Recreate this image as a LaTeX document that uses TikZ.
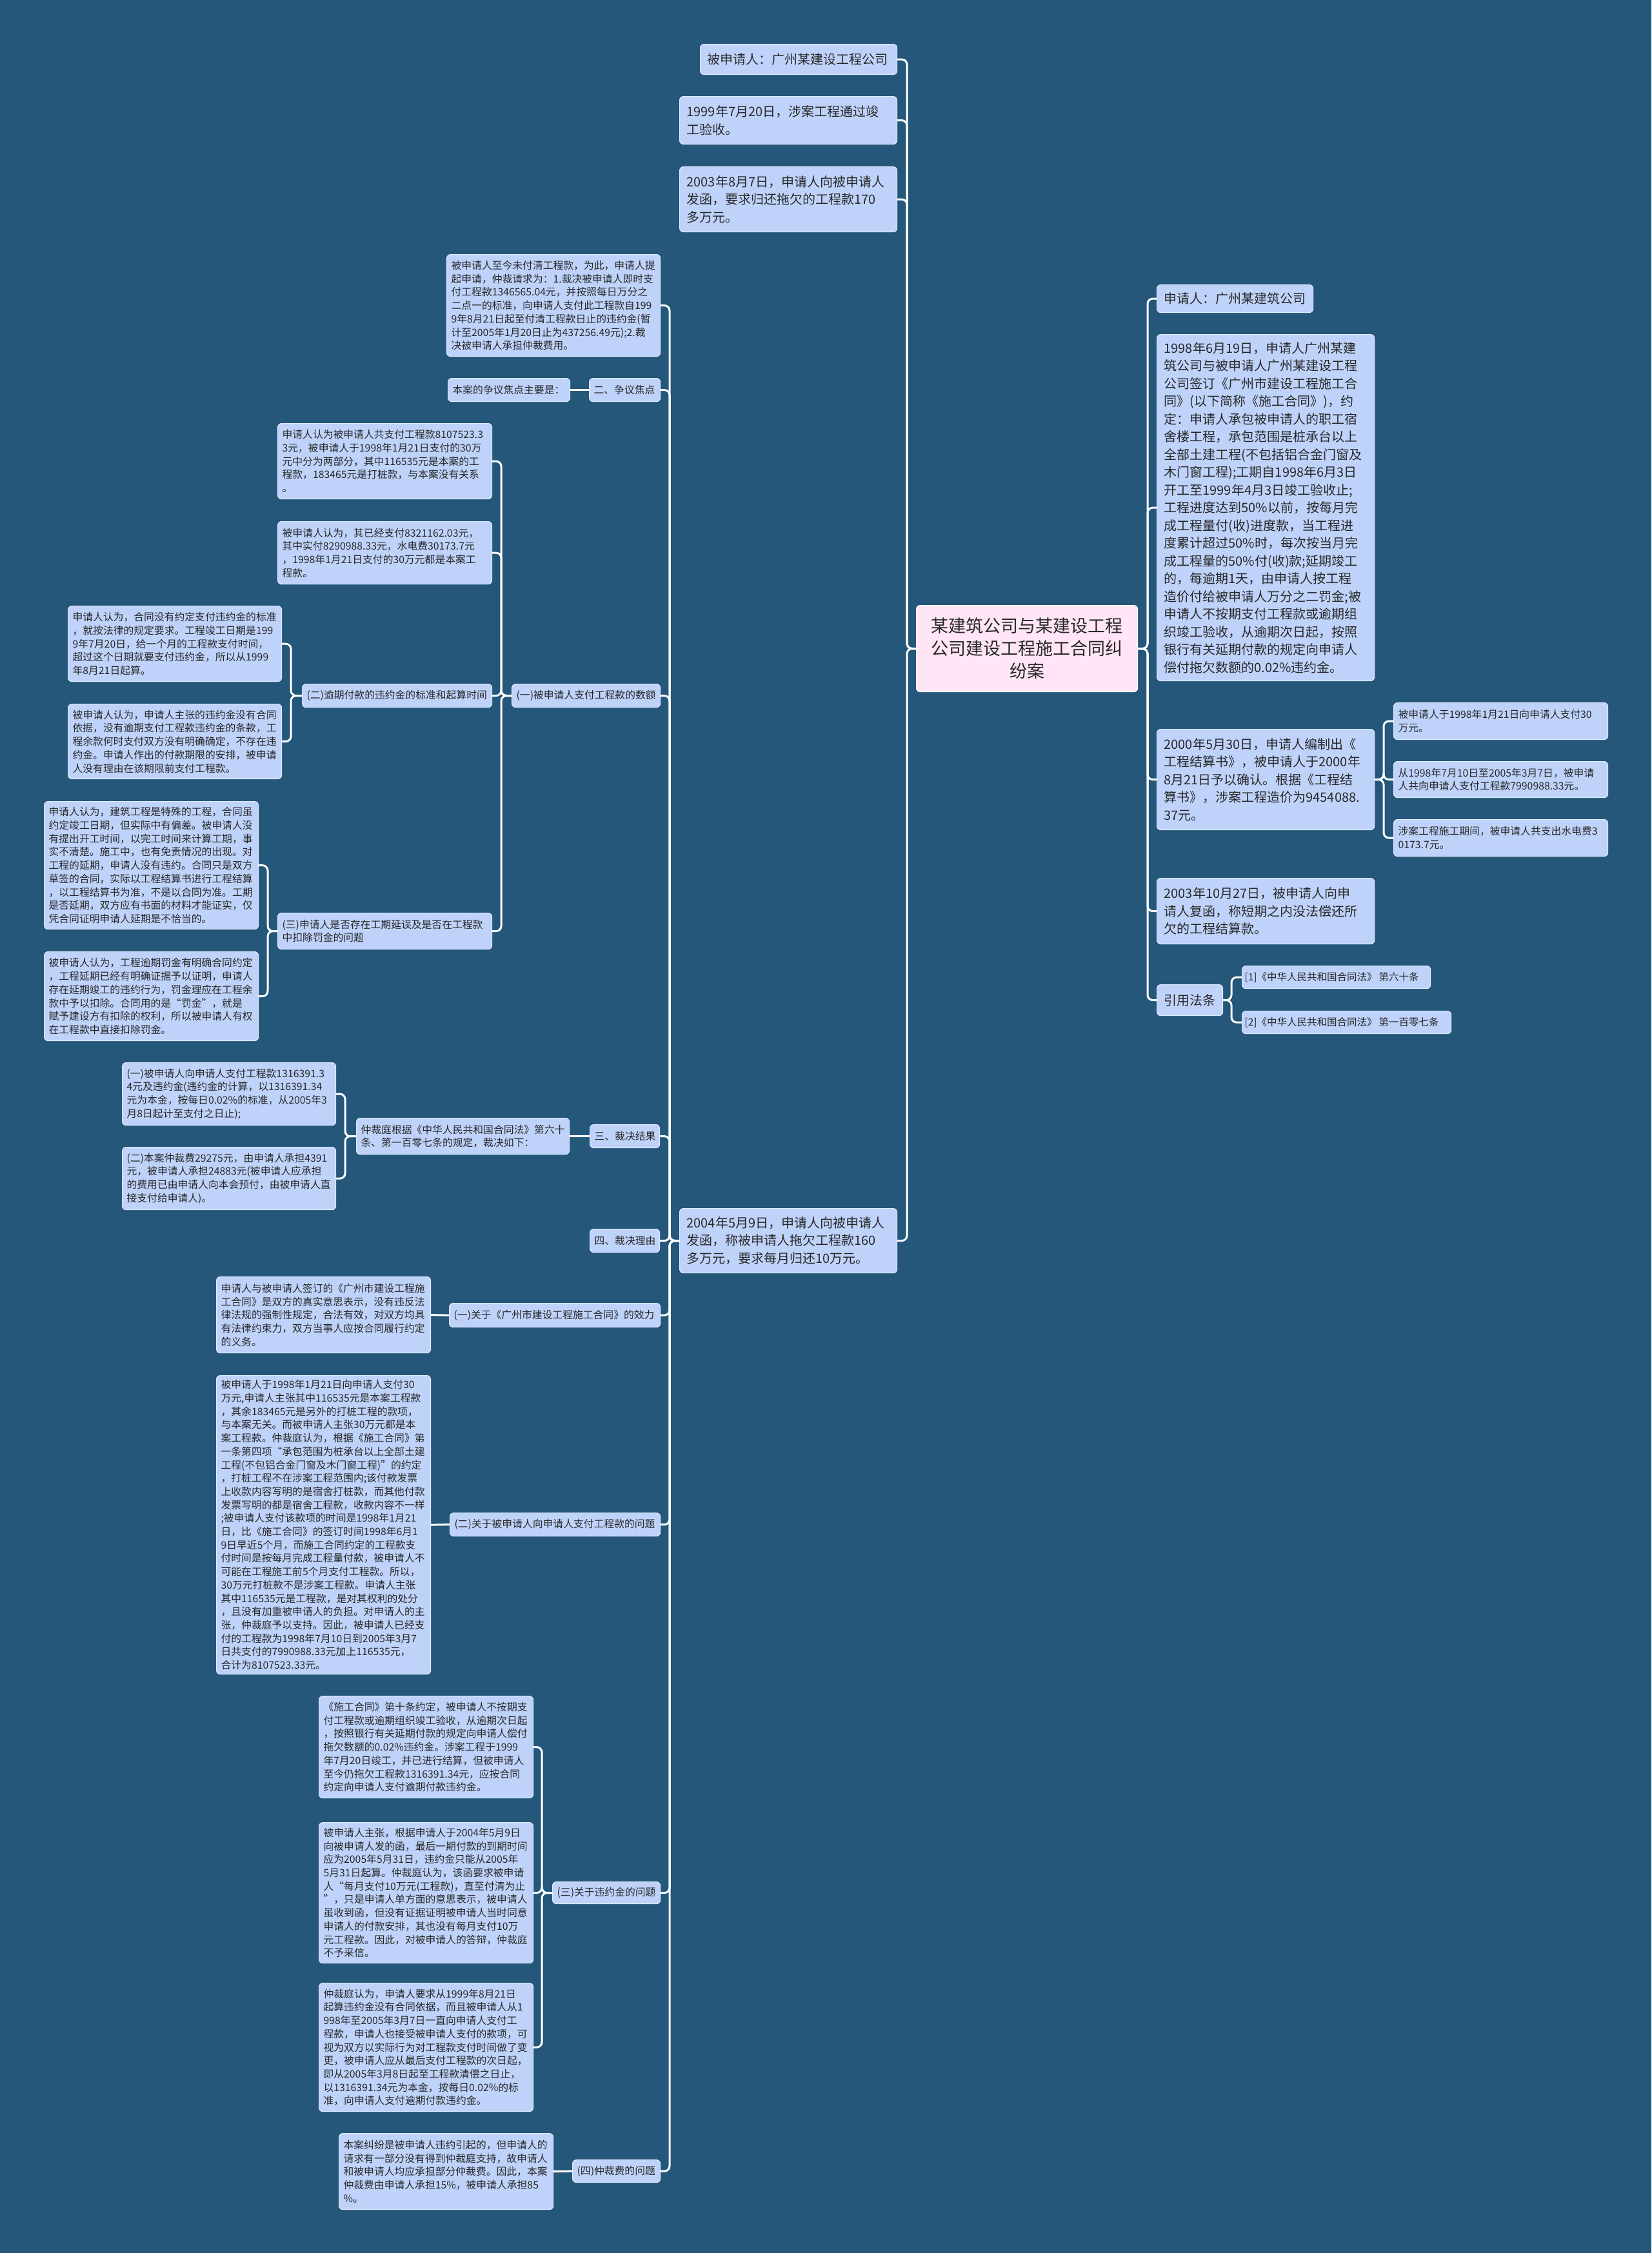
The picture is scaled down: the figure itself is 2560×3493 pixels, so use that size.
\documentclass[tikz,border=0pt]{standalone}
\usepackage{fontspec}
\setmainfont{Noto Sans CJK SC}
\definecolor{bg}{RGB}{36,87,122}
\definecolor{nfill}{RGB}{191,211,250}
\definecolor{nline}{RGB}{222,233,255}
\definecolor{cfill}{RGB}{255,229,246}
\definecolor{tcol}{RGB}{40,40,40}
\tikzset{
 base/.style={rectangle, rounded corners=6pt, fill=nfill, draw=nline, line width=1.2pt, text=tcol, align=left},
 sm/.style={base, font={\fontsize{15.8pt}{20.7pt}\selectfont}},
 law/.style={base, font={\fontsize{15.5pt}{20pt}\selectfont}},
 lg/.style={base, font={\fontsize{20pt}{27.5pt}\selectfont}},
 ctr/.style={base, fill=cfill, draw=white, align=center, font={\fontsize{27pt}{35pt}\selectfont}},
 conn/.style={draw=white, line width=3pt, rounded corners=8pt},
}
\newcommand\bx[8]{%
 \pgfmathsetmacro\bxw{#6-#4}%
 \pgfmathsetmacro\bxh{#7-#5}%
 \pgfmathsetmacro\bxt{#6-#4-2*#3}%
 \node[#2, inner xsep=#3pt, inner ysep=0pt, anchor=north west, minimum width=\bxw pt, minimum height=\bxh pt, text width=\bxt pt] (#1) at (#4,#5) {#8};}
\begin{document}
\begin{tikzpicture}[x=1pt,y=-1pt]
\useasboundingbox (0,0) rectangle (2560,3493);
\fill[bg] (0,0) rectangle (2560,3493);
% trunk / bus coordinates
\coordinate (tl) at (1406,0);
\coordinate (tr) at (1779,0);
\coordinate (b1) at (1038,0);
\coordinate (b2) at (777,0);
\coordinate (b3) at (451,0);
\coordinate (b4) at (415,0);
\coordinate (b5) at (535,0);
\coordinate (b6) at (840,0);
\coordinate (b7) at (2145,0);
\coordinate (b8) at (1909,0);
% central
\bx{C}{ctr}{11}{1420}{938}{1763}{1072}{某建筑公司与某建设工程\\公司建设工程施工合同纠\\纷案}
% left level 1
\bx{L1}{lg}{11}{1085}{68}{1390}{115}{被申请人：广州某建设工程公司}
\bx{L2}{lg}{11}{1053}{149}{1390}{223}{1999年7月20日，涉案工程通过竣\\工验收。}
\bx{L3}{lg}{11}{1053}{258}{1390}{359}{2003年8月7日，申请人向被申请人\\发函，要求归还拖欠的工程款170\\多万元。}
\bx{L4}{lg}{11}{1053}{1873}{1390}{1973}{2004年5月9日，申请人向被申请人\\发函，称被申请人拖欠工程款160\\多万元，要求每月归还10万元。}
% children of L4
\bx{A1}{sm}{7}{692}{394}{1023}{552}{被申请人至今未付清工程款，为此，申请人提\\起申请，仲裁请求为：1.裁决被申请人即时支\\付工程款1346565.04元，并按照每日万分之\\二点一的标准，向申请人支付此工程款自199\\9年8月21日起至付清工程款日止的违约金(暂\\计至2005年1月20日止为437256.49元);2.裁\\决被申请人承担仲裁费用。}
\bx{A3}{sm}{7}{913}{586}{1023}{622}{二、争议焦点}
\bx{A2}{sm}{7}{694}{586}{883}{622}{本案的争议焦点主要是：}
\bx{A4}{sm}{7}{793}{1060}{1023}{1096}{(一)被申请人支付工程款的数额}
\bx{A5}{sm}{7}{914}{1743}{1022}{1779}{三、裁决结果}
\bx{A6}{sm}{7}{914}{1905}{1022}{1941}{四、裁决理由}
\bx{A7}{sm}{7}{696}{2020}{1023}{2057}{(一)关于《广州市建设工程施工合同》的效力}
\bx{A8}{sm}{7}{697}{2345}{1023}{2381}{(二)关于被申请人向申请人支付工程款的问题}
\bx{A9}{sm}{7}{856}{2917}{1023}{2951}{(三)关于违约金的问题}
\bx{A10}{sm}{7}{887}{3348}{1023}{3383}{(四)仲裁费的问题}
% children of A4
\bx{B1}{sm}{7}{430}{656}{762}{773}{申请人认为被申请人共支付工程款8107523.3\\3元，被申请人于1998年1月21日支付的30万\\元中分为两部分，其中116535元是本案的工\\程款，183465元是打桩款，与本案没有关系\\。}
\bx{B2}{sm}{7}{430}{808}{762}{905}{被申请人认为，其已经支付8321162.03元，\\其中实付8290988.33元，水电费30173.7元\\，1998年1月21日支付的30万元都是本案工\\程款。}
\bx{B3}{sm}{7}{468}{1060}{762}{1096}{(二)逾期付款的违约金的标准和起算时间}
\bx{B4}{sm}{7}{430}{1415}{762}{1471}{(三)申请人是否存在工期延误及是否在工程款\\中扣除罚金的问题}
% children of B3
\bx{C1}{sm}{7}{105}{939}{436}{1056}{申请人认为，合同没有约定支付违约金的标准\\，就按法律的规定要求。工程竣工日期是199\\9年7月20日，给一个月的工程款支付时间，\\超过这个日期就要支付违约金，所以从1999\\年8月21日起算。}
\bx{C2}{sm}{7}{105}{1091}{436}{1207}{被申请人认为，申请人主张的违约金没有合同\\依据，没有逾期支付工程款违约金的条款，工\\程余款何时支付双方没有明确确定，不存在违\\约金。申请人作出的付款期限的安排，被申请\\人没有理由在该期限前支付工程款。}
% children of B4
\bx{C3}{sm}{7}{68}{1242}{400}{1440}{申请人认为，建筑工程是特殊的工程，合同虽\\约定竣工日期，但实际中有偏差。被申请人没\\有提出开工时间，以完工时间来计算工期，事\\实不清楚。施工中，也有免责情况的出现。对\\工程的延期，申请人没有违约。合同只是双方\\草签的合同，实际以工程结算书进行工程结算\\，以工程结算书为准，不是以合同为准。工期\\是否延期，双方应有书面的材料才能证实，仅\\凭合同证明申请人延期是不恰当的。}
\bx{C4}{sm}{7}{68}{1475}{400}{1613}{被申请人认为，工程逾期罚金有明确合同约定\\，工程延期已经有明确证据予以证明，申请人\\存在延期竣工的违约行为，罚金理应在工程余\\款中予以扣除。合同用的是“罚金”，就是\\赋予建设方有扣除的权利，所以被申请人有权\\在工程款中直接扣除罚金。}
% children of A5
\bx{D1}{sm}{7}{552}{1733}{882}{1789}{仲裁庭根据《中华人民共和国合同法》第六十\\条、第一百零七条的规定，裁决如下：}
\bx{D2}{sm}{7}{189}{1647}{520}{1744}{(一)被申请人向申请人支付工程款1316391.3\\4元及违约金(违约金的计算，以1316391.34\\元为本金，按每日0.02\%的标准，从2005年3\\月8日起计至支付之日止);}
\bx{D3}{sm}{7}{189}{1778}{520}{1875}{(二)本案仲裁费29275元，由申请人承担4391\\元，被申请人承担24883元(被申请人应承担\\的费用已由申请人向本会预付，由被申请人直\\接支付给申请人)。}
% children of A7, A8
\bx{E1}{sm}{7}{335}{1979}{667}{2097}{申请人与被申请人签订的《广州市建设工程施\\工合同》是双方的真实意思表示，没有违反法\\律法规的强制性规定，合法有效，对双方均具\\有法律约束力，双方当事人应按合同履行约定\\的义务。}
\bx{E2}{sm}{7}{335}{2132}{667}{2595}{被申请人于1998年1月21日向申请人支付30\\万元,申请人主张其中116535元是本案工程款\\，其余183465元是另外的打桩工程的款项，\\与本案无关。而被申请人主张30万元都是本\\案工程款。仲裁庭认为，根据《施工合同》第\\一条第四项“承包范围为桩承台以上全部土建\\工程(不包铝合金门窗及木门窗工程)”的约定\\，打桩工程不在涉案工程范围内;该付款发票\\上收款内容写明的是宿舍打桩款，而其他付款\\发票写明的都是宿舍工程款，收款内容不一样\\;被申请人支付该款项的时间是1998年1月21\\日，比《施工合同》的签订时间1998年6月1\\9日早近5个月，而施工合同约定的工程款支\\付时间是按每月完成工程量付款，被申请人不\\可能在工程施工前5个月支付工程款。所以，\\30万元打桩款不是涉案工程款。申请人主张\\其中116535元是工程款，是对其权利的处分\\，且没有加重被申请人的负担。对申请人的主\\张，仲裁庭予以支持。因此，被申请人已经支\\付的工程款为1998年7月10日到2005年3月7\\日共支付的7990988.33元加上116535元，\\合计为8107523.33元。}
% children of A9
\bx{E3}{sm}{7}{494}{2629}{826}{2787}{《施工合同》第十条约定，被申请人不按期支\\付工程款或逾期组织竣工验收，从逾期次日起\\，按照银行有关延期付款的规定向申请人偿付\\拖欠数额的0.02\%违约金。涉案工程于1999\\年7月20日竣工，并已进行结算，但被申请人\\至今仍拖欠工程款1316391.34元，应按合同\\约定向申请人支付逾期付款违约金。}
\bx{E4}{sm}{7}{494}{2825}{826}{3043}{被申请人主张，根据申请人于2004年5月9日\\向被申请人发的函，最后一期付款的到期时间\\应为2005年5月31日，违约金只能从2005年\\5月31日起算。仲裁庭认为，该函要求被申请\\人“每月支付10万元(工程款)，直至付清为止\\”，只是申请人单方面的意思表示，被申请人\\虽收到函，但没有证据证明被申请人当时同意\\申请人的付款安排，其也没有每月支付10万\\元工程款。因此，对被申请人的答辩，仲裁庭\\不予采信。}
\bx{E5}{sm}{7}{494}{3074}{826}{3273}{仲裁庭认为，申请人要求从1999年8月21日\\起算违约金没有合同依据，而且被申请人从1\\998年至2005年3月7日一直向申请人支付工\\程款，申请人也接受被申请人支付的款项，可\\视为双方以实际行为对工程款支付时间做了变\\更，被申请人应从最后支付工程款的次日起，\\即从2005年3月8日起至工程款清偿之日止，\\以1316391.34元为本金，按每日0.02\%的标\\准，向申请人支付逾期付款违约金。}
% child of A10
\bx{E6}{sm}{7}{525}{3307}{857}{3425}{本案纠纷是被申请人违约引起的，但申请人的\\请求有一部分没有得到仲裁庭支持，故申请人\\和被申请人均应承担部分仲裁费。因此，本案\\仲裁费由申请人承担15\%，被申请人承担85\\\%。}
% right side
\bx{R1}{lg}{11}{1793}{441}{2035}{484}{申请人：广州某建筑公司}
\bx{R2}{lg}{11}{1793}{518}{2130}{1055}{1998年6月19日，申请人广州某建\\筑公司与被申请人广州某建设工程\\公司签订《广州市建设工程施工合\\同》(以下简称《施工合同》)，约\\定：申请人承包被申请人的职工宿\\舍楼工程，承包范围是桩承台以上\\全部土建工程(不包括铝合金门窗及\\木门窗工程);工期自1998年6月3日\\开工至1999年4月3日竣工验收止;\\工程进度达到50\%以前，按每月完\\成工程量付(收)进度款，当工程进\\度累计超过50\%时，每次按当月完\\成工程量的50\%付(收)款;延期竣工\\的，每逾期1天，由申请人按工程\\造价付给被申请人万分之二罚金;被\\申请人不按期支付工程款或逾期组\\织竣工验收，从逾期次日起，按照\\银行有关延期付款的规定向申请人\\偿付拖欠数额的0.02\%违约金。}
\bx{R3}{lg}{11}{1793}{1130}{2130}{1286}{2000年5月30日，申请人编制出《\\工程结算书》，被申请人于2000年\\8月21日予以确认。根据《工程结\\算书》，涉案工程造价为9454088.\\37元。}
\bx{R4}{lg}{11}{1793}{1361}{2130}{1463}{2003年10月27日，被申请人向申\\请人复函，称短期之内没法偿还所\\欠的工程结算款。}
\bx{R5}{lg}{11}{1793}{1526}{1895}{1574}{引用法条}
\bx{S1}{sm}{7}{2160}{1089}{2492}{1146}{被申请人于1998年1月21日向申请人支付30\\万元。}
\bx{S2}{sm}{7}{2160}{1180}{2492}{1236}{从1998年7月10日至2005年3月7日，被申请\\人共向申请人支付工程款7990988.33元。}
\bx{S3}{sm}{7}{2160}{1270}{2492}{1327}{涉案工程施工期间，被申请人共支出水电费3\\0173.7元。}
\bx{T1}{law}{4}{1925}{1497}{2217}{1532}{\mbox{[1]《中华人民共和国合同法》\kern3pt 第六十条}}
\bx{T2}{law}{4}{1925}{1567}{2249}{1602}{\mbox{[2]《中华人民共和国合同法》\kern3pt 第一百零七条}}
% connectors: central to left
\foreach \n in {L1,L2,L3,L4}{\draw[conn] (C.west) -- (C.west -| tl) |- (\n.east);}
% central to right
\foreach \n in {R1,R2,R3,R4,R5}{\draw[conn] (C.east) -- (C.east -| tr) |- (\n.west);}
% L4 children
\foreach \n in {A1,A3,A4,A5,A6,A7,A8,A9,A10}{\draw[conn] (L4.west) -- (L4.west -| b1) |- (\n.east);}
\draw[conn] (A3.west) -- (A2.east);
% A4 children
\foreach \n in {B1,B2,B3,B4}{\draw[conn] (A4.west) -- (A4.west -| b2) |- (\n.east);}
\foreach \n in {C1,C2}{\draw[conn] (B3.west) -- (B3.west -| b3) |- (\n.east);}
\foreach \n in {C3,C4}{\draw[conn] (B4.west) -- (B4.west -| b4) |- (\n.east);}
% A5 children
\draw[conn] (A5.west) -- (D1.east);
\foreach \n in {D2,D3}{\draw[conn] (D1.west) -- (D1.west -| b5) |- (\n.east);}
\draw[conn] (A7.west) -- (E1.east);
\draw[conn] (A8.west) -- (E2.east);
\foreach \n in {E3,E4,E5}{\draw[conn] (A9.west) -- (A9.west -| b6) |- (\n.east);}
\draw[conn] (A10.west) -- (E6.east);
% right children
\foreach \n in {S1,S2,S3}{\draw[conn] (R3.east) -- (R3.east -| b7) |- (\n.west);}
\foreach \n in {T1,T2}{\draw[conn] (R5.east) -- (R5.east -| b8) |- (\n.west);}
\end{tikzpicture}
\end{document}
